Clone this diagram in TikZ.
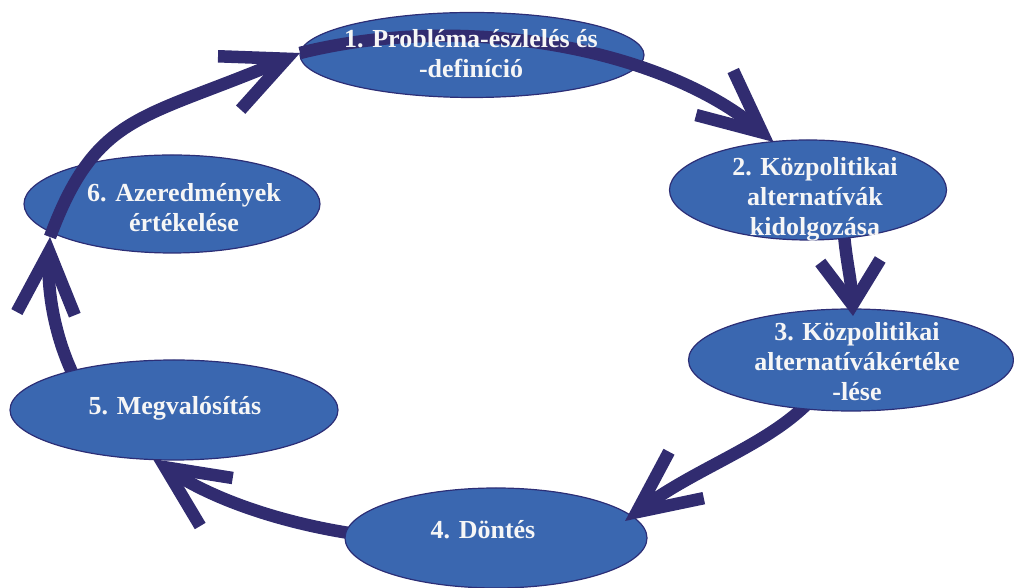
\documentclass[tikz,border=0pt]{standalone}
\usepackage{fontspec}
\setmainfont{Liberation Serif}
\usetikzlibrary{arrows.meta,shapes.geometric}
\definecolor{phasefill}{RGB}{58,103,176}
\definecolor{phaseline}{RGB}{44,46,118}
\definecolor{flowcol}{RGB}{49,44,112}
\definecolor{labelcol}{RGB}{246,246,246}

\begin{document}
\begin{tikzpicture}[x=1pt,y=1pt,
  phase/.style={ellipse, draw=phaseline, line width=1.2pt, fill=phasefill, inner sep=0pt},
  caption/.style={text=labelcol, align=center, inner sep=0pt,
                  font=\fontsize{26}{30}\selectfont\bfseries},
  flow/.style={draw=flowcol, line width=12.5pt,
               -{Straight Barb[length=62pt,width=58pt]}},
  shortflow/.style={flow, -{Straight Barb[length=44pt,width=60pt]}}]
\useasboundingbox (0,0) rectangle (1014,588);

% points on the cycle where the arrows start and arrive
\coordinate (k1) at (300,535);
\coordinate (k2) at (773.5,446);
\coordinate (s2) at (843,365);
\coordinate (k3) at (853,272);
\coordinate (s3) at (828.7,211.5);
\coordinate (k4) at (625,67);
\coordinate (s4) at (414.9,47.95);
\coordinate (k5) at (152.9,129);
\coordinate (s5) at (80,200);
\coordinate (k6) at (50,351);

% the six phases, layered with the arrows between them
\node[phase, minimum width=296pt, minimum height=98pt] (e6) at (172,384) {};
\node[phase, minimum width=344pt, minimum height=85pt] (e1) at (472,533) {};
\draw[flow] (s5) .. controls +(-25,45) and +(-3,-55) .. (k6);
\node[phase, minimum width=328pt, minimum height=100pt] (e5) at (174,178) {};
\draw[flow] (s4) .. controls +(-100.43,5.45) and +(68.11,-46.11) .. (k5);
\node[phase, minimum width=302pt, minimum height=100pt] (e4) at (496,50) {};
\draw[flow] (s3) .. controls +(-36.14,-61.59) and +(80,60) .. (k4);
\node[phase, minimum width=325pt, minimum height=102pt] (e3) at (851,228) {};
\draw[shortflow] (s2) .. controls +(3,-40) and +(-2,40) .. (k3);
\node[phase, minimum width=277pt, minimum height=100pt] (e2) at (808,398) {};
\draw[flow] (k1) .. controls +(170.14,42.39) and +(-109.21,91.23) .. (k2);
\draw[flow] (k6) .. controls +(46.3,124.5) and +(-158.2,-67.1) .. (k1);

% phase labels
\node[caption] (t1) at (471,534) {1. Probléma-észlelés és\\-definíció};
\node[caption] (t2) at (815,389) {2. Közpolitikai\\alternatívák\\kidolgozása};
\node[caption] (t3) at (857,226) {3. Közpolitikai\\alternatívákértéke\\-lése};
\node[caption] (t4) at (483,58) {4. Döntés};
\node[caption] (t5) at (175,180) {5. Megvalósítás};
\node[caption] (t6) at (184,380) {6. Azeredmények\\értékelése};
\end{tikzpicture}
\end{document}
